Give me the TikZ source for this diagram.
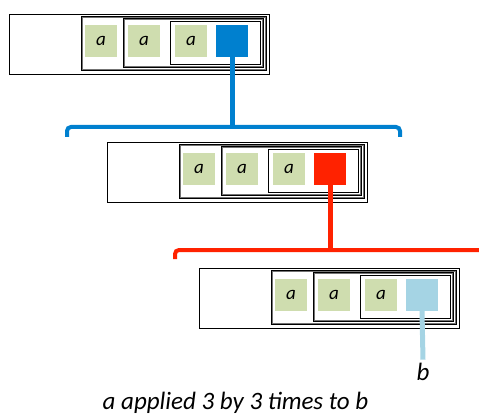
\documentclass[tikz,border=0pt]{standalone}
\usepackage{fontspec}
\setmainfont{Carlito}
\definecolor{lgreen}{HTML}{CFDDAF}
\definecolor{cblue}{HTML}{0080CF}
\definecolor{cred}{HTML}{FF2200}
\definecolor{clblue}{HTML}{A5D4E4}
\tikzset{
  sq/.style={minimum size=32pt, inner sep=0pt, fill=lgreen, font=\fontsize{19}{19}\selectfont\itshape},
  frame/.style={draw=black, line width=0.9pt},
  gframe/.style={draw=black!55, line width=0.9pt},
  link/.style={line width=5pt},
  brk/.style={line width=4pt, rounded corners=4pt},
  lbl/.style={font=\fontsize{25}{25}\selectfont\itshape}
}
\newcommand\grp[4]{%
\begin{scope}[shift={(#2,#3)}]
  \draw[frame] (0,0) rectangle (260,60);
  \draw[frame] (72,2) rectangle (257.5,56.5);
  \draw[gframe] (73.2,3.2) rectangle (256,55.3);
  \draw[frame] (114,4.5) rectangle (254.5,53.5);
  \draw[gframe] (115.2,5.7) rectangle (253,52.3);
  \draw[frame] (161,7) rectangle (251.5,50.5);
  \node[sq] (#1a1) at (92,27) {a};
  \node[sq] (#1a2) at (135,27) {a};
  \node[sq] (#1a3) at (182,27) {a};
  \node[sq, fill=#4] (#1c) at (223,27) {};
\end{scope}}
\begin{document}
\begin{tikzpicture}[x=1pt,y=-1pt]
\useasboundingbox (0,0) rectangle (479,414);
\grp{ga}{9}{14}{cblue}
\grp{gb}{107}{142}{cred}
\grp{gc}{199}{268}{clblue}
% bracket 1
\coordinate (h1) at (0,127);
\coordinate (k1) at (gac.south |- h1);
\coordinate (k1l) at (67,137);
\coordinate (k1r) at (400,137);
\draw[cblue, link] (gac.south) -- (k1);
\draw[cblue, brk] (k1l) |- (k1) -| (k1r);
% bracket 2
\coordinate (h2) at (0,250);
\coordinate (k2) at (gbc.south |- h2);
\coordinate (k2l) at (175,259);
\coordinate (k2r) at (485,250);
\draw[cred, link] (gbc.south) -- (k2);
\draw[cred, brk] (k2l) |- (k2) -- (k2r);
% b
\node[lbl] (b) at (423,372) {b};
\draw[clblue, link] (gcc.south) -- (b.north);
\node[lbl, anchor=base] (cap) at (235.5,409) {a applied 3 by 3 times to b};
\end{tikzpicture}
\end{document}
